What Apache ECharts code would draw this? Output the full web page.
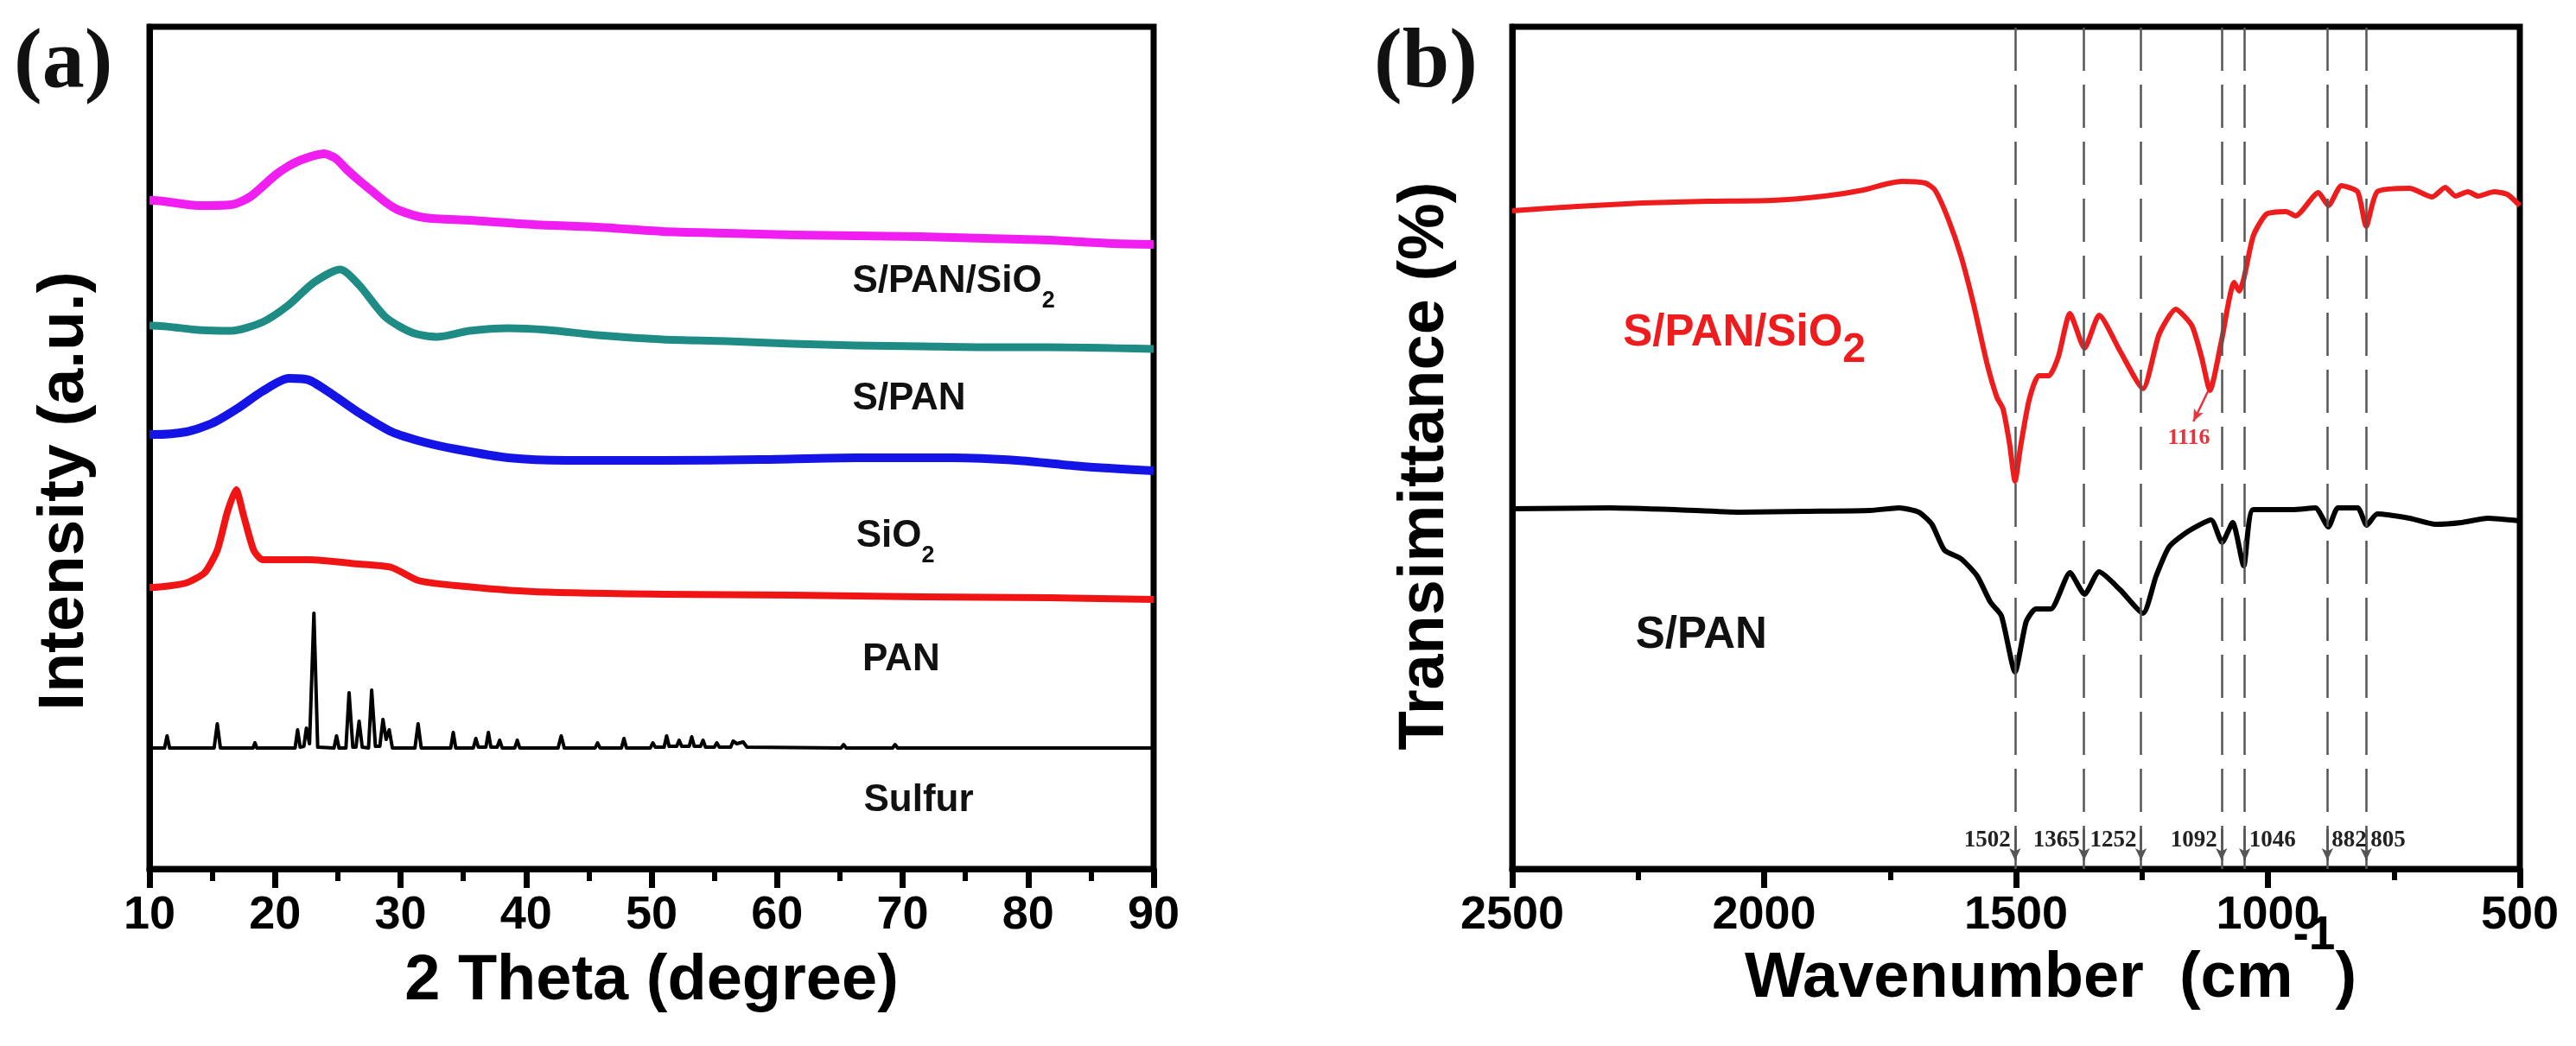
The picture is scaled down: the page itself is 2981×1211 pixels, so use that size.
<!DOCTYPE html>
<html>
<head>
<meta charset="utf-8">
<title>XRD and FTIR</title>
<script src="https://cdn.jsdelivr.net/npm/echarts@6/dist/echarts.min.js"></script>
<style>
  html, body { margin: 0; padding: 0; background: #fff; }
  #main { width: 2981px; height: 1211px; }
</style>
</head>
<body>
<div id="main"></div>
<script>
// ---- (a) XRD patterns (intensity in arbitrary units) ----
const magentaTheta = [10, 10.3, 13.9, 16.5, 18.0, 20.0, 21.0, 22.1, 23.9, 24.8, 25.7, 26.7, 27.8, 28.8, 29.8, 31.9, 35.5, 40.6, 45.7, 50.9, 56.0, 61.2, 66.3, 71.5, 76.6, 81.7, 86.8, 90];
const magentaI     = [774, 774, 768, 769, 778, 803, 813, 821, 828, 823, 810, 797, 784, 772, 763, 754, 751, 746, 743, 738, 736, 734, 733, 732, 730, 728, 724, 723];

const tealTheta = [10, 10.3, 13.9, 16.5, 19.0, 21.1, 23.1, 25.2, 26.7, 28.8, 30.9, 32.9, 35.5, 38.6, 41.7, 45.7, 50.9, 56.0, 61.2, 66.3, 71.5, 76.6, 81.7, 90];
const tealI     = [629, 629, 624, 623, 633, 653, 679, 694, 676, 639, 621, 616, 623, 626, 624, 618, 613, 611, 608, 606, 605, 604, 604, 602];

const blueTheta = [10, 10.3, 12.9, 15.0, 17.0, 19.0, 21.1, 22.7, 24.7, 26.7, 29.3, 31.9, 34.4, 38.6, 43.2, 50.9, 58.6, 66.3, 74.0, 79.1, 84.3, 90];
const blueI     = [503, 503, 506, 516, 533, 553, 568, 566, 548, 528, 506, 494, 486, 476, 473, 473, 474, 476, 476, 473, 466, 461];

const redTheta = [10, 10.3, 12.9, 14.4, 15.4, 16.2, 16.9, 17.5, 18.3, 19.0, 22.7, 26.7, 29.3, 31.4, 34.4, 40.6, 50.9, 61.2, 71.5, 81.7, 90];
const redI     = [326, 326, 331, 343, 369, 413, 439, 409, 369, 358, 358, 353, 349, 334, 328, 321, 318, 317, 315, 314, 312];

const sulfurTheta = [10, 11.2, 11.4, 11.6, 15.15, 15.4, 15.65, 18.25, 18.4, 18.55,
  21.6, 21.8, 22.0, 22.3, 22.5, 22.75, 23.1, 23.4, 24.7, 24.9, 25.1,
  25.65, 25.9, 26.2, 26.45, 26.7, 26.95, 27.45, 27.7, 28.0, 28.35, 28.6, 28.85, 29.1, 29.35,
  31.15, 31.4, 31.65, 34.0, 34.2, 34.4, 35.8, 36.0, 36.2, 36.8, 37.0, 37.2, 37.7, 37.9, 38.1,
  39.1, 39.3, 39.5, 42.55, 42.8, 43.05, 45.5, 45.7, 45.9, 47.6, 47.8, 48.0,
  49.9, 50.1, 50.3, 51.0, 51.2, 51.4, 52.0, 52.2, 52.4, 53.0, 53.2, 53.4, 53.9, 54.1, 54.3,
  55.0, 55.2, 55.4, 56.3, 56.5, 56.8, 57.3, 57.6, 65.1, 65.3, 65.5, 69.2, 69.4, 69.6, 90];
const sulfurI = [140, 140, 154, 140, 140, 168, 140, 140, 146, 140,
  140, 161, 141, 142, 163, 145, 296, 141, 140, 154, 140,
  140, 204, 141, 141, 171, 141, 140, 207, 142, 142, 173, 150, 161, 140,
  140, 168, 140, 140, 158, 140, 140, 151, 141, 141, 158, 141, 141, 149, 140,
  140, 149, 140, 140, 154, 140, 140, 146, 140, 140, 151, 140,
  140, 146, 141, 141, 154, 142, 142, 149, 142, 142, 153, 142, 142, 149, 141,
  141, 146, 141, 141, 148, 145, 147, 141, 140, 144, 140, 140, 144, 140, 140];

// ---- (b) FTIR spectra (transmittance in arbitrary units) ----
const ftirRedWn = [2500, 2371, 2242, 2113, 1984, 1880, 1803, 1758, 1726, 1680, 1661, 1635, 1609, 1584, 1558, 1538, 1526, 1513, 1502, 1491,
  1474, 1455, 1435, 1416, 1393, 1364, 1335, 1293, 1248, 1216, 1183, 1151, 1132, 1115, 1093, 1067, 1057, 1048, 1029, 1003,
  964, 945, 900, 880, 854, 822, 805, 783, 719, 674, 648, 628, 603, 583, 551, 525, 500];
const ftirRedT = [762, 767, 771, 773, 774, 779, 786, 793, 796, 794, 786, 753, 709, 653, 586, 546, 533, 493, 449, 489,
  543, 571, 571, 593, 643, 603, 641, 599, 556, 619, 648, 629, 593, 554, 609, 679, 669, 683, 733, 758,
  761, 756, 783, 768, 791, 784, 744, 784, 788, 778, 789, 779, 784, 779, 784, 781, 768];

const ftirBlackWn = [2500, 2306, 2177, 2048, 1919, 1790, 1732, 1693, 1667, 1642, 1609, 1577, 1551, 1529, 1502, 1480, 1461, 1431, 1393, 1364,
  1335, 1293, 1248, 1222, 1196, 1158, 1113, 1091, 1070, 1048, 1029, 951, 906, 880, 861, 822, 804, 783, 719, 667, 616, 564, 500];
const ftirBlackT = [417, 418, 416, 413, 414, 415, 418, 413, 399, 369, 359, 339, 309, 293, 228, 286, 301, 301, 343, 318,
  344, 323, 296, 339, 373, 391, 404, 378, 401, 351, 416, 416, 418, 396, 418, 418, 398, 411, 406, 399, 401, 406, 403];

// marked bands
const peakWn = [1502, 1365, 1252, 1092, 1046, 882, 805];
const peakLabelSide = ['left', 'left', 'left', 'left', 'right', 'right', 'right'];
const siBandWn = 1116;

const SANS = 'Liberation Sans, Arial, Helvetica, sans-serif';
const SERIF = 'Liberation Serif, Times New Roman, serif';

const pairs = (xs, ys) => xs.map((x, i) => [x, ys[i]]);

const chart = echarts.init(document.getElementById('main'));

// 通用的坐标轴样式
const axisLineStyle = { show: true, lineStyle: { color: '#000', width: 7 } };
const tickLabel = { margin: 27, fontSize: 54, fontWeight: 'bold', fontFamily: SANS, color: '#000', formatter: v => String(v) };
const nameStyle = { fontSize: 74, fontWeight: 'bold', fontFamily: SANS, color: '#000' };

// 曲线旁的文字标注（不画符号，只显示文字）
function textMark(x, y, text, rich, position) {
  return {
    coord: [x, y],
    symbol: 'circle',
    symbolSize: 0,
    label: { show: true, position: position || 'right', distance: 0, formatter: text, rich: rich }
  };
}

const richA = {
  m: { fontSize: 44, fontWeight: 'bold', fontFamily: SANS, color: '#111', lineHeight: 44 },
  s: { fontSize: 27, fontWeight: 'bold', fontFamily: SANS, color: '#111', lineHeight: 27, padding: [46, 0, 0, 0] }
};
const richRedB = {
  m: { fontSize: 51, fontWeight: 'bold', fontFamily: SANS, color: '#ee1c1c', lineHeight: 51 },
  s: { fontSize: 48, fontWeight: 'bold', fontFamily: SANS, color: '#ee1c1c', lineHeight: 48, padding: [40, 0, 0, 0] }
};
const richBlackB = {
  m: { fontSize: 51, fontWeight: 'bold', fontFamily: SANS, color: '#111', lineHeight: 51 }
};

function xrdSeries(name, xs, ys, color, width, smooth, marks) {
  return {
    name: name, type: 'line', xAxisIndex: 0, yAxisIndex: 0,
    data: pairs(xs, ys), showSymbol: false, smooth: smooth,
    lineStyle: { color: color, width: width, join: 'round' },
    markPoint: { silent: true, data: marks }
  };
}

const option = {
  backgroundColor: '#fff',
  animation: false,
  title: [
    { text: '(a)', left: 16, top: 26, padding: 0, textStyle: { fontFamily: SERIF, fontWeight: 'bold', fontSize: 98, color: '#111' } },
    { text: '(b)', left: 1590, top: 26, padding: 0, textStyle: { fontFamily: SERIF, fontWeight: 'bold', fontSize: 98, color: '#111' } }
  ],
  grid: [
    { left: 173, top: 31, width: 1162, height: 975, show: true, borderColor: '#000', borderWidth: 7, outerBoundsMode: 'none', containLabel: false },
    { left: 1750, top: 31, width: 1166, height: 975, show: true, borderColor: '#000', borderWidth: 7, outerBoundsMode: 'none', containLabel: false }
  ],
  xAxis: [
    {
      gridIndex: 0, type: 'value', min: 10, max: 90, interval: 10,
      axisLine: axisLineStyle,
      axisTick: { show: true, inside: false, length: 22, lineStyle: { color: '#000', width: 7 } },
      minorTick: { show: true, splitNumber: 2, length: 14, lineStyle: { color: '#000', width: 6 } },
      axisLabel: tickLabel,
      splitLine: { show: false },
      name: '2 Theta (degree)', nameLocation: 'middle', nameGap: 94, nameMoveOverlap: false, nameTextStyle: nameStyle
    },
    {
      gridIndex: 1, type: 'value', min: 500, max: 2500, interval: 500, inverse: true,
      axisLine: axisLineStyle,
      axisTick: { show: true, inside: false, length: 22, lineStyle: { color: '#000', width: 7 } },
      minorTick: { show: true, splitNumber: 2, length: 13, lineStyle: { color: '#000', width: 6 } },
      axisLabel: tickLabel,
      splitLine: { show: false },
      name: '{m|Wavenumber  (cm}{sup|-1}{m|)}', nameLocation: 'middle', nameGap: 91, nameMoveOverlap: false,
      nameTextStyle: {
        padding: [0, 0, 0, 80],
        rich: {
          m: { fontSize: 74, fontWeight: 'bold', fontFamily: SANS, color: '#000', lineHeight: 74 },
          sup: { fontSize: 55, fontWeight: 'bold', fontFamily: SANS, color: '#000', lineHeight: 55, padding: [0, 0, 100, 0] }
        }
      }
    }
  ],
  yAxis: [
    {
      gridIndex: 0, type: 'value', min: 0, max: 975,
      axisLine: axisLineStyle, axisTick: { show: false }, axisLabel: { show: false }, splitLine: { show: false },
      name: 'Intensity (a.u.)', nameLocation: 'middle', nameGap: 60, nameRotate: 90,
      nameTextStyle: Object.assign({ padding: [0, 100, 0, 0] }, nameStyle, { fontSize: 75 })
    },
    {
      gridIndex: 1, type: 'value', min: 0, max: 975,
      axisLine: axisLineStyle, axisTick: { show: false }, axisLabel: { show: false }, splitLine: { show: false },
      name: 'Transimittance (%)', nameLocation: 'middle', nameGap: 63, nameRotate: 90,
      nameTextStyle: Object.assign({ padding: [0, 42, 0, 0] }, nameStyle)
    }
  ],
  series: [
    xrdSeries('S/PAN/SiO2', magentaTheta, magentaI, '#f01ef0', 10, 0.25,
      [textMark(66.0, 680, '{m|S/PAN/SiO}{s|2}', richA)]),
    xrdSeries('S/PAN', tealTheta, tealI, '#1e8c84', 9, 0.25,
      [textMark(66.0, 544, '{m|S/PAN}', richA)]),
    xrdSeries('SiO2', blueTheta, blueI, '#1414e6', 10, 0.25,
      [textMark(66.3, 385, '{m|SiO}{s|2}', richA)]),
    xrdSeries('PAN', redTheta, redI, '#f01414', 8, 0.2,
      [textMark(66.8, 242, '{m|PAN}', richA)]),
    xrdSeries('Sulfur', sulfurTheta, sulfurI, '#000', 4, false,
      [textMark(66.9, 79, '{m|Sulfur}', richA)]),
    {
      name: 'S/PAN/SiO2 FTIR', type: 'line', xAxisIndex: 1, yAxisIndex: 1,
      data: pairs(ftirRedWn, ftirRedT), showSymbol: false, smooth: 0.2,
      lineStyle: { color: '#ee1c1c', width: 6, join: 'round' },
      markPoint: {
        silent: true,
        data: [
          textMark(2280, 620, '{m|S/PAN/SiO}{s|2}', richRedB),
          {
            coord: [1157, 499], symbol: 'circle', symbolSize: 0,
            label: { show: true, position: 'inside', formatter: String(siBandWn), fontFamily: SERIF, fontWeight: 'bold', fontSize: 26, color: '#e8333a' }
          }
        ]
      },
      markLine: {
        silent: true, symbol: ['none', 'arrow'], symbolSize: [9, 14],
        label: { show: false },
        lineStyle: { color: '#e8333a', width: 2.5, type: 'solid' },
        data: [[{ coord: [1119, 553] }, { coord: [1148, 518] }]]
      }
    },
    {
      name: 'S/PAN FTIR', type: 'line', xAxisIndex: 1, yAxisIndex: 1,
      data: pairs(ftirBlackWn, ftirBlackT), showSymbol: false, smooth: 0.2,
      lineStyle: { color: '#000', width: 6, join: 'round' },
      markPoint: {
        silent: true,
        data: [textMark(2255, 270, '{m|S/PAN}', richBlackB)].concat(peakWn.map((w, i) => ({
          coord: [w, 33], symbol: 'circle', symbolSize: 0,
          label: { show: true, position: peakLabelSide[i], distance: 5, formatter: String(w), fontFamily: SERIF, fontWeight: 'bold', fontSize: 27, color: '#222' }
        })))
      },
      markLine: {
        silent: true, symbol: ['none', 'none'],
        label: { show: false },
        lineStyle: { color: '#555', width: 2.5, type: [50, 16] },
        data: peakWn.map(w => ({ xAxis: w })).concat(peakWn.map(w => [
          { coord: [w, 46], symbol: 'none', lineStyle: { type: 'solid', color: '#555', width: 2.5 } },
          { coord: [w, 10], symbol: 'arrow', symbolSize: [10, 14] }
        ]))
      }
    }
  ]
};

chart.setOption(option);

window.addEventListener('resize', () => chart.resize());
</script>
</body>
</html>
